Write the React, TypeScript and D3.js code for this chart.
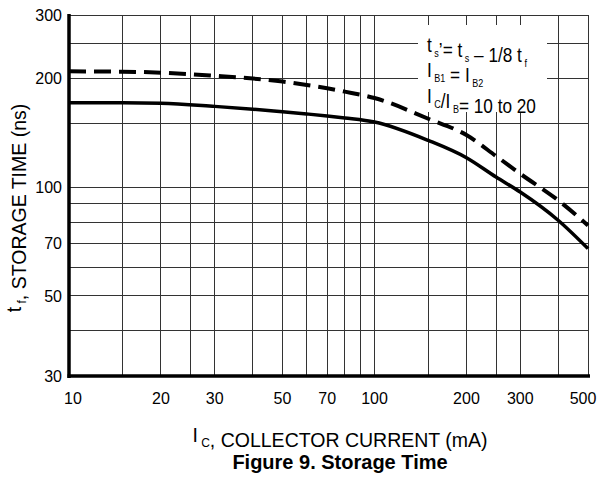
import React from "react";
import * as d3 from "d3";

const W = 597;
const H = 483;

const xGrid = [15, 20, 25, 30, 40, 50, 60, 70, 80, 90, 100, 150, 200, 250, 300, 400, 500];
const yGrid = [40, 50, 60, 70, 80, 90, 100, 150, 200, 250, 300];
const xTickLabels = [10, 20, 30, 50, 70, 100, 200, 300, 500];
const yTickLabels = [30, 50, 70, 100, 200, 300];

const currentIc = [10, 15, 20, 30, 40, 50, 60, 70, 80, 100, 150, 200, 250, 300, 400, 500];
const solidTs = [171.5, 171.5, 171, 167.5, 164.5, 161.8, 159.6, 157.6, 155.6, 151.6, 134.8, 120.7, 106.7, 97, 80.9, 67.6];
const dashedTs = [209.4, 209, 207.6, 203.5, 200, 196.2, 192, 188, 184, 176.7, 154.8, 139.5, 122, 109, 91.9, 78.4];

const FONT = "'Liberation Sans', Arial, Helvetica, sans-serif";

export default function App() {
  const left = 69, right = 588, top = 15, bottom = 376;
  const x = d3.scaleLog().domain([10, 500]).range([left, right]);
  const y = d3.scaleLog().domain([30, 300]).range([bottom, top]);

  const line = d3
    .line<number>()
    .x((_, i) => x(currentIc[i]))
    .y((d) => y(d))
    .curve(d3.curveMonotoneX);

  const sub = (t: string, size = 11, dy = 5) => [
    <tspan key={t + "a"} fontSize={size} dy={dy}>{t}</tspan>,
    <tspan key={t + "b"} dy={-dy}>{""}</tspan>,
  ];

  return (
    <svg width={W} height={H} style={{ position: "absolute", left: 0, top: 0, background: "#fff" }} fontFamily={FONT}>
      <rect width={W} height={H} fill="#fff" />
      {/* grid */}
      <g stroke="#333" strokeWidth={1} shapeRendering="crispEdges">
        {xGrid.map((v) => (
          <line key={"x" + v} x1={x(v)} x2={x(v)} y1={top} y2={bottom} />
        ))}
        {yGrid.map((v) => (
          <line key={"y" + v} x1={left} x2={right} y1={y(v)} y2={y(v)} />
        ))}
      </g>
      {/* annotation background */}
      <rect x={418} y={25} width={129} height={87} fill="#fff" />
      {/* curves */}
      <path d={line(dashedTs) || ""} fill="none" stroke="#000" strokeWidth={4} strokeDasharray="17 8" />
      <path d={line(solidTs) || ""} fill="none" stroke="#000" strokeWidth={3.5} />
      {/* axes */}
      <line x1={left} x2={left} y1={top - 1} y2={bottom + 2} stroke="#000" strokeWidth={3.5} />
      <line x1={left - 1.5} x2={right + 2} y1={bottom} y2={bottom} stroke="#000" strokeWidth={3.5} />
      {/* tick labels */}
      <g fontSize={16} fill="#000">
        {yTickLabels.map((v) => (
          <text key={"yl" + v} x={62} y={y(v)} dy="0.36em" textAnchor="end">{v}</text>
        ))}
        {xTickLabels.map((v, i) => (
          <text
            key={"xl" + v}
            x={x(v) + (i === 0 ? 4 : i === xTickLabels.length - 1 ? -5 : 0)}
            y={404}
            textAnchor="middle"
          >
            {v}
          </text>
        ))}
      </g>
      {/* annotation */}
      <g fontSize={21} fill="#000">
        <text transform="translate(427,52) scale(0.82,1)">
          t{sub(" s")}’= t{sub(" s")} – 1/8 t{sub(" f")}
        </text>
        <text transform="translate(427,77) scale(0.82,1)">
          I{sub(" B1")} = I{sub(" B2")}
        </text>
        <text transform="translate(427,103) scale(0.82,1)">
          I{sub(" C")}/I{sub(" B")}= 10 to 20
        </text>
      </g>
      {/* axis titles */}
      <text x={340} y={442} fontSize={19.5} textAnchor="middle" fill="#000">
        I{sub(" C", 12, 5)}, COLLECTOR CURRENT (mA)
      </text>
      <text x={340} y={469} fontSize={20} fontWeight="bold" textAnchor="middle" fill="#000">
        Figure 9. Storage Time
      </text>
      <text transform="translate(21,208) rotate(-90)" fontSize={19.5} textAnchor="middle" fill="#000">
        t{sub(" f", 12, 5)}, STORAGE TIME (ns)
      </text>
    </svg>
  );
}
